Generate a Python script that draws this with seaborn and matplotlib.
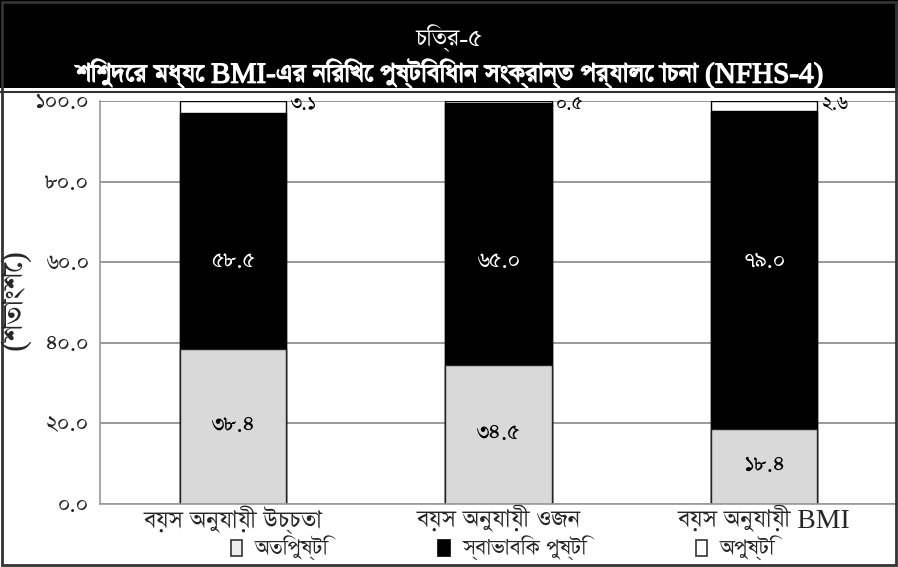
import matplotlib
matplotlib.use("Agg")
import matplotlib.pyplot as plt
from matplotlib import font_manager
from matplotlib.patches import Rectangle
from matplotlib.lines import Line2D
import matplotlib.patheffects as pe
import numpy as np
import pandas as pd
import seaborn as sns

# ---- data ----
categories = ["বয়স অনুযায়ী উচ্চতা", "বয়স অনুযায়ী ওজন", "বয়স অনুযায়ী BMI"]
series_names = ["অতিপুষ্টি", "স্বাভাবিক পুষ্টি", "অপুষ্টি"]
over_values = [38.4, 34.5, 18.4]
normal_values = [58.5, 65.0, 79.0]
under_values = [3.1, 0.5, 2.6]
ytick_values = [0, 20, 40, 60, 80, 100]
ytick_labels = ["০.০", "২০.০", "৪০.০", "৬০.০", "৮০.০", "১০০.০"]
title_line1 = "চিত্র-৫"
title_line2 = "শিশুদের মধ্যে BMI-এর নিরিখে পুষ্টিবিধান সংক্রান্ত পর্যালোচনা (NFHS-4)"
ylabel = "(শতাংশে)"

BN_DIGITS = str.maketrans("0123456789", "০১২৩৪৫৬৭৮৯")


def bn(v):
    return f"{v:.1f}".translate(BN_DIGITS)


def font_with(char):
    """Name of an installed font with a glyph for char, serif faces first."""
    try:
        from fontTools.ttLib import TTFont
    except Exception:
        return None
    found = []
    for fe in font_manager.fontManager.ttflist:
        try:
            tt = TTFont(fe.fname, fontNumber=0, lazy=True)
            cmap = tt.getBestCmap()
            if cmap and ord(char) in cmap:
                found.append(fe.name)
        except Exception:
            continue
    if not found:
        return None
    serif = [n for n in found if "Serif" in n]
    return (serif or found)[0]


sns.set_theme(style="white")
bengali = font_with("ক")
families = ["Liberation Serif"] + ([bengali] if bengali else []) + ["DejaVu Sans"]
plt.rcParams["font.family"] = families

df = pd.DataFrame({
    "category": categories,
    "over": over_values,
    "normal": normal_values,
    "under": under_values,
})
df["top"] = df["over"] + df["normal"] + df["under"]
df["mid"] = df["over"] + df["normal"]

W, H = 898, 567
fig = plt.figure(figsize=(W / 100, H / 100), dpi=100)
ax = fig.add_axes([100 / W, 1 - 503.5 / H, 797 / W, 402.5 / H])

# stacked bars: draw cumulative heights back to front
sns.barplot(data=df, x="category", y="top", color="white", edgecolor="black",
            linewidth=1.0, width=0.4, ax=ax, saturation=1)
sns.barplot(data=df, x="category", y="mid", color="black", edgecolor="black",
            linewidth=1.0, width=0.4, ax=ax, saturation=1)
sns.barplot(data=df, x="category", y="over", color="#d9d9d9", edgecolor="#222222",
            linewidth=1.0, width=0.4, ax=ax, saturation=1)

ax.set_ylim(0, 100)
ax.set_xlim(-0.5, 2.5)
ax.set_yticks(ytick_values)
ax.set_yticklabels(ytick_labels, fontsize=18)
ax.set_xticks(range(len(categories)))
ax.set_xticklabels(categories, fontsize=20)
ax.set_xticks([0.5, 1.5], minor=True)
ax.tick_params(axis="x", which="major", length=0, pad=2)
ax.tick_params(axis="x", which="minor", length=6, color="#999999", width=1)
ax.tick_params(axis="y", length=7, color="#888888", width=1, pad=1)
ax.set_xlabel("")
ax.set_ylabel("")
ax.yaxis.grid(True, color="#888888", linewidth=1.2)
ax.set_axisbelow(True)
for side in ["top", "right"]:
    ax.spines[side].set_visible(False)
for side in ["left", "bottom"]:
    ax.spines[side].set_color("#999999")
    ax.spines[side].set_linewidth(1.2)

# value labels
for i, row in df.iterrows():
    ax.text(i, row["over"] / 2, bn(row["over"]), ha="center", va="center",
            fontsize=18, color="black")
    ax.text(i, 60, bn(row["normal"]), ha="center", va="center",
            fontsize=18, color="white")
    ax.text(i + 0.215, 99, bn(row["under"]), ha="left", va="center",
            fontsize=16, color="black")

fig.text(15 / W, 1 - 300 / H, ylabel, rotation=90, ha="center", va="center",
         fontsize=24)

# title banner
fig.patches.append(Rectangle((0, 1 - 88 / H), 1, 88 / H, transform=fig.transFigure,
                             facecolor="black", edgecolor="none", zorder=0))
fig.lines.append(Line2D([0, 1], [1 - 91.5 / H] * 2, transform=fig.transFigure,
                        color="#333333", linewidth=1.5))
fig.patches.append(Rectangle((2 / W, 2 / H), 894 / W, 1 - 4 / H,
                             transform=fig.transFigure, facecolor="none",
                             edgecolor="#333333", linewidth=2))
fig.text(0.5, 1 - 40 / H, title_line1, ha="center", va="center", color="white",
         fontsize=20)
fig.text(0.5, 1 - 74 / H, title_line2, ha="center", va="center", color="white",
         fontsize=21,
         path_effects=[pe.withStroke(linewidth=0.9, foreground="white")])

# legend
handles = [
    Rectangle((0, 0), 1, 1, facecolor="#eeeeee", edgecolor="#333333", linewidth=1.2),
    Rectangle((0, 0), 1, 1, facecolor="black", edgecolor="black", linewidth=1.2),
    Rectangle((0, 0), 1, 1, facecolor="white", edgecolor="#333333", linewidth=1.2),
]
fig.legend(handles, series_names, loc="center", bbox_to_anchor=(503 / W, 1 - 549 / H),
           ncol=3, frameon=False, fontsize=18, handlelength=0.45, handleheight=0.6,
           handletextpad=0.5, columnspacing=4.4)

fig.savefig("out.png", dpi=100)
